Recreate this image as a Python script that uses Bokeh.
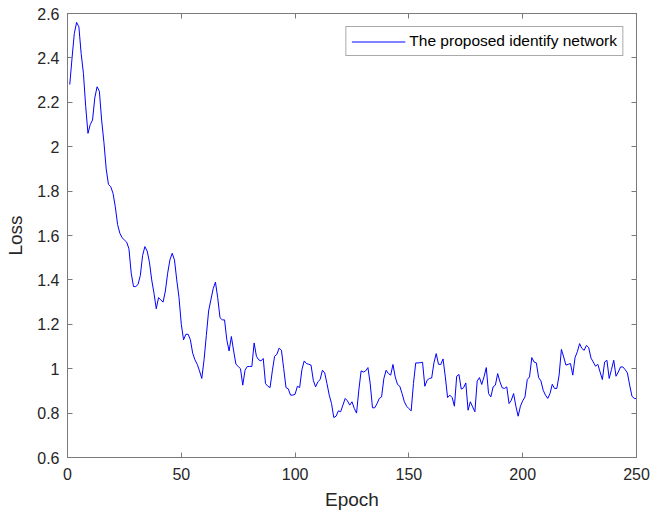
from bokeh.plotting import figure
from bokeh.models import Range1d, LinearAxis, FixedTicker, Legend, LegendItem, CustomLabelingPolicy
from bokeh.embed import file_html
from bokeh.resources import INLINE

epochs = list(range(1, 251))
loss = [
    2.28, 2.40, 2.51, 2.56, 2.54, 2.42, 2.33, 2.18, 2.06, 2.10,
    2.12, 2.22, 2.27, 2.25, 2.12, 2.02, 1.90, 1.83, 1.82, 1.79,
    1.73, 1.65, 1.61, 1.59, 1.58, 1.57, 1.54, 1.43, 1.37, 1.37,
    1.38, 1.42, 1.51, 1.55, 1.53, 1.48, 1.40, 1.34, 1.27, 1.32,
    1.31, 1.30, 1.35, 1.43, 1.49, 1.52, 1.49, 1.40, 1.32, 1.20,
    1.13, 1.155, 1.155, 1.13, 1.07, 1.04, 1.02, 0.99, 0.956, 1.04,
    1.15, 1.26, 1.31, 1.36, 1.39, 1.32, 1.23, 1.22, 1.22, 1.13,
    1.08, 1.145, 1.08, 1.02, 1.01, 1.00, 0.926, 0.993, 1.01, 1.01,
    1.01, 1.116, 1.056, 1.04, 1.035, 1.046, 0.933, 0.921, 0.915, 0.99,
    1.056, 1.065, 1.093, 1.083, 1.00, 0.915, 0.909, 0.881, 0.881, 0.885,
    0.921, 0.915, 0.996, 1.035, 1.023, 1.02, 1.016, 0.948, 0.918, 0.941,
    0.951, 0.993, 0.981, 0.933, 0.881, 0.843, 0.78, 0.786, 0.81, 0.806,
    0.836, 0.866, 0.855, 0.836, 0.851, 0.821, 0.80, 0.903, 0.99, 0.985,
    0.99, 1.005, 0.933, 0.824, 0.824, 0.843, 0.866, 0.873, 0.956, 0.993,
    0.978, 0.971, 1.019, 0.963, 0.929, 0.921, 0.888, 0.851, 0.831, 0.82,
    0.81, 0.933, 1.026, 1.026, 1.027, 1.029, 0.921, 0.948, 0.956, 0.958,
    1.026, 1.068, 1.02, 1.019, 1.044, 0.963, 0.87, 0.881, 0.87, 0.831,
    0.966, 0.974, 0.908, 0.914, 0.936, 0.813, 0.851, 0.828, 0.806, 0.944,
    0.96, 0.929, 0.963, 1.005, 0.888, 0.873, 0.918, 0.926, 0.978, 0.941,
    0.914, 0.911, 0.918, 0.843, 0.858, 0.888, 0.831, 0.786, 0.831, 0.855,
    0.873, 0.951, 0.963, 1.05, 1.03, 1.026, 0.96, 0.945, 0.903, 0.881,
    0.866, 0.888, 0.93, 0.911, 0.911, 0.971, 1.087, 1.053, 1.016, 1.02,
    1.023, 0.971, 1.05, 1.076, 1.113, 1.091, 1.083, 1.105, 1.095, 1.048,
    1.03, 1.011, 1.02, 0.985, 0.951, 1.03, 1.038, 0.956, 0.996, 1.038,
    0.966, 0.985, 1.008, 1.008, 0.996, 0.981, 0.926, 0.876, 0.866, 0.866,
]

x_ticks = [0, 50, 100, 150, 200, 250]
y_ticks = [0.6, 0.8, 1.0, 1.2, 1.4, 1.6, 1.8, 2.0, 2.2, 2.4, 2.6]
y_tick_labels = ["0.6", "0.8", "1", "1.2", "1.4", "1.6", "1.8", "2", "2.2", "2.4", "2.6"]
series_name = "The proposed identify network"

FONT = "Liberation Sans"
AXIS_COLOR = "#7a7a7a"
TEXT_COLOR = "#262626"

p = figure(width=650, height=518, output_backend="svg", toolbar_location=None,
           x_range=Range1d(0, 250), y_range=Range1d(0.6, 2.6),
           min_border_left=67, min_border_right=14, min_border_top=13, min_border_bottom=61)
p.background_fill_color = "white"
p.border_fill_color = "white"
p.outline_line_color = AXIS_COLOR
p.grid.visible = False

r = p.line(epochs, loss, line_color="#0000ff", line_width=1)

no_labels = CustomLabelingPolicy(code="""
    for (const i of indices) indices.unset(i)
    return indices
""")

def style_axis(ax, show_labels=True):
    ax.axis_line_color = AXIS_COLOR
    ax.major_tick_line_color = AXIS_COLOR
    ax.major_tick_in = 5
    ax.major_tick_out = 0
    ax.minor_tick_line_color = None
    ax.major_label_text_font = FONT
    ax.major_label_text_color = TEXT_COLOR
    if show_labels:
        ax.major_label_text_font_size = "16px"
    else:
        ax.major_label_text_font_size = "1px"
        ax.major_label_standoff = 0
        ax.major_label_policy = no_labels

p.xaxis.ticker = FixedTicker(ticks=x_ticks)
p.yaxis.ticker = FixedTicker(ticks=y_ticks)
p.yaxis.major_label_overrides = {t: s for t, s in zip(y_ticks, y_tick_labels)}
style_axis(p.xaxis[0])
style_axis(p.yaxis[0])
p.xaxis.major_label_standoff = 10
p.yaxis.major_label_standoff = 8

p.xaxis.axis_label = "Epoch"
p.yaxis.axis_label = "Loss"
for ax in (p.xaxis[0], p.yaxis[0]):
    ax.axis_label_text_font = FONT
    ax.axis_label_text_font_size = "19px"
    ax.axis_label_text_font_style = "normal"
    ax.axis_label_text_color = TEXT_COLOR
p.xaxis.axis_label_standoff = 6
p.yaxis.axis_label_standoff = 8

top_ax = LinearAxis(ticker=FixedTicker(ticks=x_ticks))
style_axis(top_ax, show_labels=False)
p.add_layout(top_ax, "above")
right_ax = LinearAxis(ticker=FixedTicker(ticks=y_ticks))
style_axis(right_ax, show_labels=False)
p.add_layout(right_ax, "right")

legend = Legend(items=[LegendItem(label=series_name, renderers=[r])],
                location="top_right")
legend.margin = 13
legend.padding = 5
legend.spacing = 0
legend.glyph_width = 54
legend.glyph_height = 17
legend.label_height = 17
legend.label_standoff = 4
legend.label_text_font = FONT
legend.label_text_font_size = "15.5px"
legend.label_text_color = "#000000"
legend.border_line_color = "#555555"
legend.border_line_width = 1
legend.background_fill_color = "white"
legend.background_fill_alpha = 1
p.add_layout(legend, "center")

open("out.html", "w").write(file_html(p, INLINE))
